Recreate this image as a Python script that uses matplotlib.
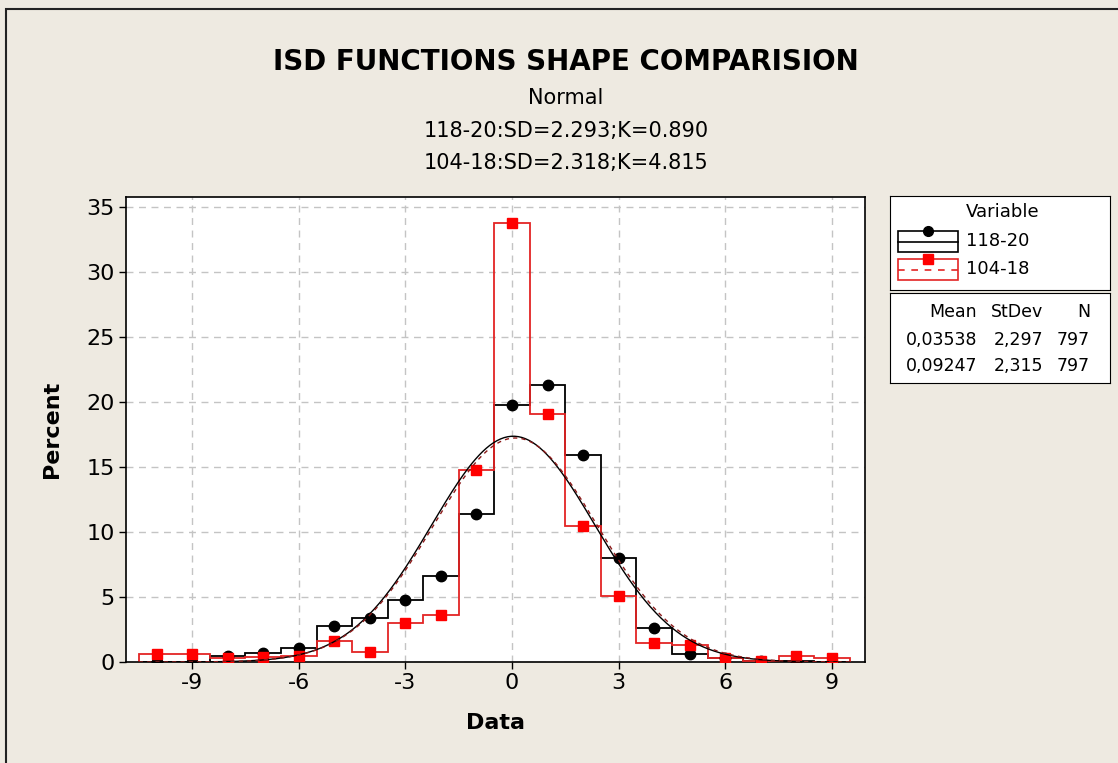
import numpy as np
import matplotlib.pyplot as plt
from matplotlib.patches import Rectangle

# bin centres (width 1) and percentages
centers = np.arange(-10, 10)
pct_118_20 = [0.0, 0.0, 0.5, 0.7, 1.1, 2.8, 3.4, 4.8, 6.6, 11.4,
              19.8, 21.3, 15.9, 8.0, 2.6, 0.6, 0.3, 0.1, 0.1, 0.0]
pct_104_18 = [0.6, 0.6, 0.3, 0.4, 0.5, 1.6, 0.8, 3.0, 3.6, 14.8,
              33.8, 19.1, 10.5, 5.1, 1.5, 1.3, 0.3, 0.1, 0.5, 0.3]

names = ['118-20', '104-18']
means = [0.03538, 0.09247]
stdevs = [2.297, 2.315]
counts = [797, 797]

title = 'ISD FUNCTIONS SHAPE COMPARISION'
subtitles = ['Normal', '118-20:SD=2.293;K=0.890', '104-18:SD=2.318;K=4.815']

bg = '#EEEAE1'
red = '#E32424'

plt.rcParams['axes.unicode_minus'] = False

W, H = 1118, 763
fig = plt.figure(figsize=(W / 100, H / 100), dpi=100, facecolor=bg)

# outer frame (runs off the right and bottom edges)
fig.patches.append(Rectangle((6 / W, -0.05), 1.2, 1 - 9 / H + 0.05, transform=fig.transFigure,
                             fill=False, edgecolor='#222222', linewidth=1.5))

ax = fig.add_axes([126 / W, 1 - 662 / H, (865 - 126) / W, (662 - 197) / H])
ax.set_facecolor('white')

edges = np.append(centers - 0.5, centers[-1] + 0.5)
ax.stairs(pct_118_20, edges, color='black', linewidth=1.3, zorder=3)
ax.stairs(pct_104_18, edges, color=red, linewidth=1.3, zorder=4)
ax.plot(centers, pct_118_20, 'o', color='black', markersize=7.5, zorder=5)
ax.plot(centers, pct_104_18, 's', color='red', markersize=7, zorder=6)

# fitted normal curves (bin width 1 -> percent)
xs = np.linspace(-10.5, 9.5, 400)
for m, s, c, ls in zip(means, stdevs, ['black', '#8B1A1A'], ['-', (0, (3, 3))]):
    ys = 100 / (s * np.sqrt(2 * np.pi)) * np.exp(-0.5 * ((xs - m) / s) ** 2)
    ax.plot(xs, ys, color=c, linestyle=ls, linewidth=1.0, zorder=7)

ax.set_xlim(-10.86, 9.93)
ax.set_ylim(0, 35.77)
ax.set_xticks(np.arange(-9, 10, 3))
ax.set_yticks(np.arange(0, 36, 5))
ax.grid(True, linestyle=(0, (5, 4)), color='#C4C4C4', linewidth=1)
ax.set_axisbelow(True)
ax.tick_params(labelsize=16, length=5, width=1, direction='out', pad=3)
for sp in ax.spines.values():
    sp.set_linewidth(1.2)

ax.set_xlabel('Data', fontsize=16, fontweight='bold', labelpad=14)
ax.set_ylabel('Percent', fontsize=16, fontweight='bold', labelpad=18)

fig.text(566 / W, 1 - 62 / H, title, ha='center', va='center', fontsize=20, fontweight='bold')
for txt, y in zip(subtitles, [98, 131, 163]):
    fig.text(566 / W, 1 - y / H, txt, ha='center', va='center', fontsize=15)

# legend box
lg = fig.add_axes([890 / W, 1 - 290 / H, 220 / W, 94 / H])
lg.set_xlim(890, 1110)
lg.set_ylim(290, 196)
lg.set_xticks([])
lg.set_yticks([])
lg.set_facecolor('white')
lg.text(1003, 212, 'Variable', ha='center', va='center', fontsize=13)
for i, (name, c, mk, ls) in enumerate(zip(names, ['black', red], ['o', 's'], ['-', (0, (4, 4))])):
    top = 231 + i * 28
    lg.add_patch(Rectangle((898, top), 60, 21, fill=False, edgecolor=c, linewidth=1.2))
    lg.plot([898, 958], [top + 10.5, top + 10.5], color=c, linestyle=ls, linewidth=1.2)
    lg.plot([928], [top], marker=mk, color='black' if i == 0 else 'red', markersize=7)
    lg.text(966, top + 10.5, name, ha='left', va='center', fontsize=13)

# stats box
st = fig.add_axes([890 / W, 1 - 383 / H, 220 / W, 90 / H])
st.set_xlim(890, 1110)
st.set_ylim(383, 293)
st.set_xticks([])
st.set_yticks([])
st.set_facecolor('white')
st.text(977, 312, 'Mean', ha='right', va='center', fontsize=12.5)
st.text(1043, 312, 'StDev', ha='right', va='center', fontsize=12.5)
st.text(1090, 312, 'N', ha='right', va='center', fontsize=12.5)
for i, (m, s, n) in enumerate(zip(means, stdevs, counts)):
    y = 340 + i * 26
    st.text(977, y, '{:.5f}'.format(m).replace('.', ','), ha='right', va='center', fontsize=12.5)
    st.text(1043, y, '{:.3f}'.format(s).replace('.', ','), ha='right', va='center', fontsize=12.5)
    st.text(1090, y, str(n), ha='right', va='center', fontsize=12.5)

fig.savefig('out.png', dpi=100, facecolor=bg)
